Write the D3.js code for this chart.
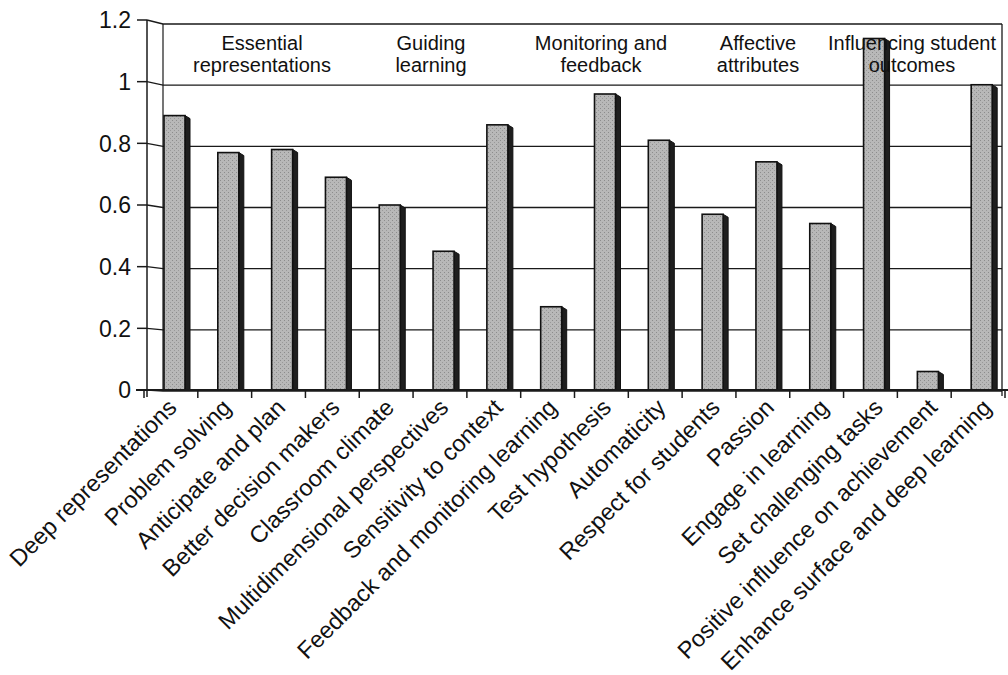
<!DOCTYPE html>
<html>
<head>
<meta charset="utf-8">
<script src="https://cdn.jsdelivr.net/npm/d3@7"></script>
<style>
  html, body { margin: 0; padding: 0; background: #fff; }
  svg text { font-family: "Liberation Sans", Arial, Helvetica, sans-serif; fill: #111; }
</style>
</head>
<body>
<svg id="chart" width="1008" height="675"></svg>
<script>
// Expertise attributes and their effect sizes
const categories = [
  "Deep representations", "Problem solving", "Anticipate and plan",
  "Better decision makers", "Classroom climate", "Multidimensional perspectives",
  "Sensitivity to context", "Feedback and monitoring learning", "Test hypothesis",
  "Automaticity", "Respect for students", "Passion", "Engage in learning",
  "Set challenging tasks", "Positive influence on achievement",
  "Enhance surface and deep learning"
];
const values = [0.89, 0.77, 0.78, 0.69, 0.60, 0.45, 0.86, 0.27, 0.96,
                0.81, 0.57, 0.74, 0.54, 1.14, 0.06, 0.99];
const yTicks = [0, 0.2, 0.4, 0.6, 0.8, 1, 1.2];
const yTickLabels = ["0", "0.2", "0.4", "0.6", "0.8", "1", "1.2"];
// Dimension headings, each placed over the attributes it groups
const groupNames = [
  ["Essential", "representations"],
  ["Guiding", "learning"],
  ["Monitoring and", "feedback"],
  ["Affective", "attributes"],
  ["Influencing student", "outcomes"]
];
const groupCenters = [262, 431, 601, 758, 912];

const svg = d3.select("#chart");

// Front plane (axis) and back wall scales of the 3-D frame
const axisX = 147, wallX = 163, wallRight = 1002, floorY = 390;
const y = d3.scaleLinear().domain([0, 1.2]).range([390, 20]);
const yWall = d3.scaleLinear().domain([0, 1.2]).range([391, 24]);
const x = d3.scaleBand().domain(categories).range([144, 1005]).padding(0);
// Labels fan out slightly wider than the bars beneath the tilted floor
const xLabel = d3.scaleBand().domain(categories).range([144, 1013]).padding(0);

const ink = "#1a1a1a";

// Stippled grey used on the bar faces
const defs = svg.append("defs");
const pat = defs.append("pattern").attr("id", "stipple")
  .attr("width", 4).attr("height", 4).attr("patternUnits", "userSpaceOnUse");
pat.append("rect").attr("width", 4).attr("height", 4).attr("fill", "#b8b8b8");
pat.append("rect").attr("x", 0).attr("y", 0).attr("width", 1).attr("height", 1).attr("fill", "#8c8c8c");
pat.append("rect").attr("x", 2).attr("y", 2).attr("width", 1).attr("height", 1).attr("fill", "#999");

// Back wall: gridlines with their slanted joins to the axis
const grid = svg.append("g");
yTicks.forEach(v => {
  grid.append("path")
    .attr("d", `M${axisX},${y(v)}L${wallX},${yWall(v)}L${wallRight},${yWall(v)}`)
    .attr("fill", "none").attr("stroke", ink).attr("stroke-width", 1.3);
});
grid.append("line").attr("x1", wallX).attr("x2", wallX)
  .attr("y1", yWall(1.2)).attr("y2", floorY)
  .attr("stroke", ink).attr("stroke-width", 1.2);
grid.append("line").attr("x1", wallRight).attr("x2", wallRight)
  .attr("y1", yWall(1.2)).attr("y2", floorY + 6)
  .attr("stroke", ink).attr("stroke-width", 1.3);

// Bars: textured grey face plus a dark side
const barOffset = 20, barW = 21, sideW = 5;
const bars = svg.append("g");
categories.forEach((c, i) => {
  const bx = x(c) + barOffset;
  const top = y(values[i]);
  bars.append("path")
    .attr("d", `M${bx + barW},${top}L${bx + barW + sideW},${top + 3}L${bx + barW + sideW},${floorY}L${bx + barW},${floorY}Z`)
    .attr("fill", "#1e1e1e").attr("stroke", "#111").attr("stroke-width", 1);
  bars.append("rect")
    .attr("x", bx).attr("y", top)
    .attr("width", barW).attr("height", floorY - top)
    .attr("fill", "url(#stipple)").attr("stroke", "#111").attr("stroke-width", 1.6);
});

// Floor line and category ticks
svg.append("line").attr("x1", 136).attr("x2", 1008)
  .attr("y1", floorY).attr("y2", floorY)
  .attr("stroke", ink).attr("stroke-width", 2);
const xTickPos = categories.map(c => x(c)).concat([x.range()[1]]);
svg.append("g").selectAll("line").data(xTickPos).join("line")
  .attr("x1", d => d).attr("x2", d => d)
  .attr("y1", floorY).attr("y2", floorY + 8)
  .attr("stroke", ink).attr("stroke-width", 1.5);

// Value axis
svg.append("line").attr("x1", axisX).attr("x2", axisX)
  .attr("y1", y(1.2)).attr("y2", floorY + 7)
  .attr("stroke", ink).attr("stroke-width", 1.5);
const yAxis = svg.append("g");
yTicks.forEach((v, i) => {
  yAxis.append("line").attr("x1", 137).attr("x2", axisX)
    .attr("y1", y(v)).attr("y2", y(v))
    .attr("stroke", ink).attr("stroke-width", 1.5);
  yAxis.append("text")
    .attr("x", 131).attr("y", y(v)).attr("dy", "0.36em")
    .attr("text-anchor", "end").attr("font-size", 23)
    .text(yTickLabels[i]);
});

// Rotated category labels
svg.append("g").selectAll("text").data(categories).join("text")
  .attr("transform", c => `translate(${xLabel(c) + xLabel.bandwidth() / 2 + 7},${floorY + 19}) rotate(-45)`)
  .attr("text-anchor", "end").attr("font-size", 23.5)
  .text(c => c);

// Dimension headings inside the back wall
const heads = svg.append("g");
groupNames.forEach((lines, i) => {
  lines.forEach((t, j) => {
    heads.append("text")
      .attr("x", groupCenters[i]).attr("y", 50 + j * 22)
      .attr("text-anchor", "middle").attr("font-size", 20)
      .text(t);
  });
});
</script>
</body>
</html>
